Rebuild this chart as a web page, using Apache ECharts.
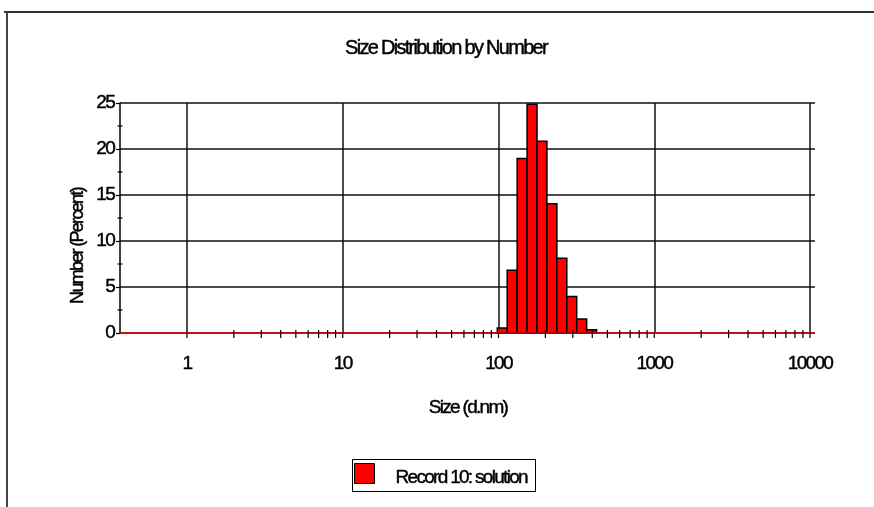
<!DOCTYPE html>
<html>
<head>
<meta charset="utf-8">
<script src="https://cdn.jsdelivr.net/npm/echarts@6/dist/echarts.min.js"></script>
<style>
  html, body { margin: 0; padding: 0; background: #fff; }
  #chart { width: 874px; height: 507px; }
</style>
</head>
<body>
<div id="chart"></div>
<script>
// Size classes (d.nm) of the non-empty bins and their number-weighted share (%)
const sizes = [105.7, 122.4, 141.8, 164.2, 190.1, 220.2, 255.0, 295.3, 342.0, 396.1];
const numberPct = [0.54, 6.83, 18.97, 24.86, 20.85, 14.05, 8.13, 3.97, 1.52, 0.36];

// Instrument size grid: 70 log-spaced classes from 0.4 to 10000 nm
const sizeRangeFrom = 0.4;
const sizeRangeTo = 10000;
const binCount = 70;

// Axis ticks
const xMajorTicks = [1, 10, 100, 1000, 10000];
const xMinorMultipliers = [2, 3, 4, 5, 6, 7, 8, 9];
const xMinorDecades = [1, 10, 100, 1000];
const yMinorTicks = [2.5, 7.5, 12.5, 17.5, 22.5];

const seriesName = 'Record 10: solution';
const FONT = "'Liberation Sans', Arial, sans-serif";

// Tightly tracked lettering for every label drawn on the canvas
const TRACKING = '-1.7px';
['fillText', 'strokeText'].forEach(fn => {
  const native = CanvasRenderingContext2D.prototype[fn];
  CanvasRenderingContext2D.prototype[fn] = function (...args) {
    if ('letterSpacing' in this) this.letterSpacing = TRACKING;
    return native.apply(this, args);
  };
});

const binRatio = Math.pow(sizeRangeTo / sizeRangeFrom, 1 / (binCount - 1));
const halfStep = Math.sqrt(binRatio);
const xMin = sizeRangeFrom / halfStep;
const xMax = sizeRangeTo * halfStep;

const xMinorTicks = [];
xMinorDecades.forEach(d => xMinorMultipliers.forEach(m => xMinorTicks.push(d * m)));

const chart = echarts.init(document.getElementById('chart'), null, { renderer: 'canvas' });

const barData = sizes.map((s, i) => [s, numberPct[i]]);

const INK = { fill: '#000', stroke: '#000', lineWidth: 0.45 };

const option = {
  animation: false,
  backgroundColor: '#fff',
  textStyle: { fontFamily: FONT },
  grid: { left: 120, right: 59, top: 103, bottom: 174, containLabel: false },
  xAxis: {
    type: 'log',
    logBase: 10,
    min: xMin,
    max: xMax,
    axisLine: { show: false },
    axisTick: { show: false },
    splitLine: { show: true, showMinLine: false, showMaxLine: false, lineStyle: { color: '#111', width: 1.5 } },
    axisLabel: {
      showMinLabel: false,
      showMaxLabel: false,
      color: '#000',
      textBorderColor: '#000',
      textBorderWidth: 0.45,
      fontFamily: FONT,
      fontSize: 19,
      margin: 21,
      formatter: v => String(Math.round(v))
    }
  },
  yAxis: {
    type: 'value',
    min: 0,
    max: 25,
    interval: 5,
    axisLine: { show: true, lineStyle: { color: '#000', width: 1.5 } },
    axisTick: { show: true, length: 4, lineStyle: { color: '#000', width: 1.2 } },
    splitLine: { show: true, lineStyle: { color: '#111', width: 1.5 } },
    axisLabel: { color: '#000', textBorderColor: '#000', textBorderWidth: 0.45, fontFamily: FONT, fontSize: 19, margin: 6 }
  },
  graphic: [
    { type: 'line', shape: { x1: 4, y1: 12, x2: 874, y2: 12 }, style: { stroke: '#333', lineWidth: 2 }, silent: true },
    { type: 'line', shape: { x1: 7, y1: 12, x2: 7, y2: 507 }, style: { stroke: '#444', lineWidth: 2 }, silent: true },
    { type: 'text', x: 446, y: 48, style: Object.assign({ text: 'Size Distribution by Number', font: '20px ' + FONT, textAlign: 'center', textVerticalAlign: 'middle' }, INK) },
    { type: 'text', x: 468, y: 408, style: Object.assign({ text: 'Size (d.nm)', font: '19px ' + FONT, textAlign: 'center', textVerticalAlign: 'middle' }, INK) },
    { type: 'text', x: 78, y: 246, rotation: Math.PI / 2, style: Object.assign({ text: 'Number (Percent)', font: '18px ' + FONT, textAlign: 'center', textVerticalAlign: 'middle' }, INK) },
    // series key
    {
      type: 'group', left: 352, top: 459, silent: true,
      children: [
        { type: 'rect', shape: { x: 0, y: 0, width: 183, height: 32 }, style: { fill: '#fff', stroke: '#000', lineWidth: 1 } },
        { type: 'rect', shape: { x: 2, y: 4, width: 20, height: 20 }, style: { fill: '#ff0000', stroke: '#000', lineWidth: 1 } },
        { type: 'text', x: 43, y: 18, style: Object.assign({ text: seriesName, font: '19px ' + FONT, textAlign: 'left', textVerticalAlign: 'middle' }, INK) }
      ]
    }
  ],
  series: [
    {
      name: seriesName,
      type: 'custom',
      z: 3,
      itemStyle: { color: '#ff0000', borderColor: '#000', borderWidth: 1 },
      encode: { x: 0, y: 1 },
      data: barData,
      renderItem: (params, api) => {
        const s = api.value(0);
        const v = api.value(1);
        const p0 = api.coord([s / halfStep, v]);
        const p1 = api.coord([s * halfStep, 0]);
        return {
          type: 'rect',
          shape: { x: p0[0], y: p0[1], width: p1[0] - p0[0], height: p1[1] - p0[1] },
          style: { fill: '#ff0000', stroke: '#000', lineWidth: 1.5 }
        };
      }
    },
    {
      // red zero trace along the whole size range plus the x-axis tick marks
      name: 'xTicks',
      type: 'custom',
      z: 4,
      silent: true,
      clip: false,
      data: [[xMin, 0, 2]].concat(xMajorTicks.map(t => [t, 0, 1]), xMinorTicks.map(t => [t, 0, 0])),
      renderItem: (params, api) => {
        const kind = api.value(2);
        const p = api.coord([api.value(0), 0]);
        if (kind === 2) {
          const q = api.coord([xMax, 0]);
          return { type: 'line', shape: { x1: p[0], y1: p[1], x2: q[0], y2: q[1] }, style: { stroke: '#e00000', lineWidth: 1.5 } };
        }
        const up = kind === 1 ? 0 : 3;
        return { type: 'line', shape: { x1: p[0], y1: p[1] - up, x2: p[0], y2: p[1] + 5 }, style: { stroke: '#000', lineWidth: 1.2 } };
      }
    },
    {
      name: 'yTicks',
      type: 'custom',
      z: 4,
      silent: true,
      clip: false,
      data: yMinorTicks.map(t => [xMin, t]),
      renderItem: (params, api) => {
        const p = api.coord([api.value(0), api.value(1)]);
        return { type: 'line', shape: { x1: p[0] - 2.5, y1: p[1], x2: p[0] + 2.5, y2: p[1] }, style: { stroke: '#000', lineWidth: 1.2 } };
      }
    }
  ]
};

chart.setOption(option);
</script>
</body>
</html>
